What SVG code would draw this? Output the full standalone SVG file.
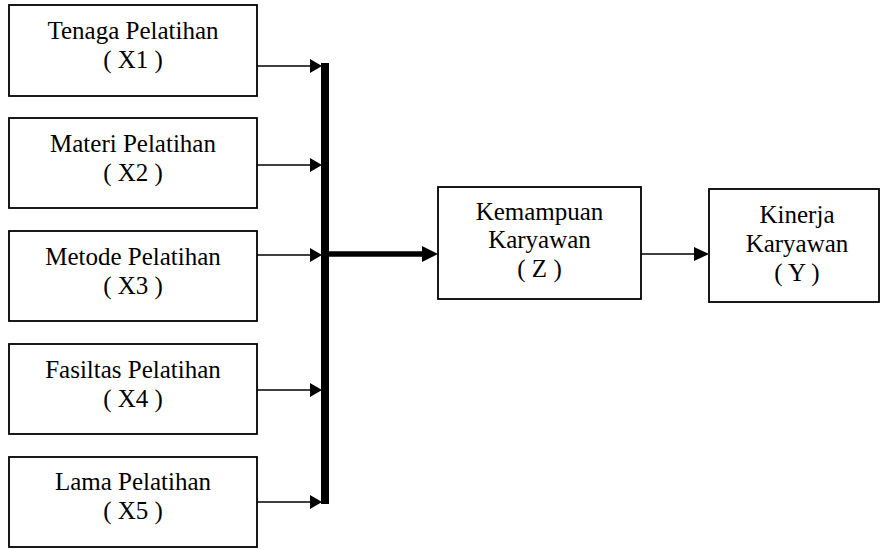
<svg xmlns="http://www.w3.org/2000/svg" width="880" height="549" viewBox="0 0 880 549">
  <style>
    .box { fill: #ffffff; stroke: #000000; stroke-width: 1.8; }
    .lbl { font-size: 25px; fill: #000000; text-anchor: middle; }
    .thin { stroke: #000000; stroke-width: 1.6; fill: none; }
    .thick { stroke: #000000; stroke-width: 5.5; fill: none; }
    .head { fill: #000000; stroke: none; }
  </style>
  <rect width="880" height="549" fill="#ffffff"/>

  <g font-family="Liberation Serif, Times New Roman, DejaVu Serif, serif">
  <!-- input variables -->
  <g id="x1">
    <rect class="box" x="9" y="5" width="248" height="91"/>
    <text class="lbl" x="133" y="39">Tenaga Pelatihan</text>
    <text class="lbl" x="133" y="68">( X1 )</text>
  </g>
  <g id="x2">
    <rect class="box" x="9" y="118" width="248" height="90"/>
    <text class="lbl" x="133" y="152">Materi Pelatihan</text>
    <text class="lbl" x="133" y="181">( X2 )</text>
  </g>
  <g id="x3">
    <rect class="box" x="9" y="231" width="248" height="90"/>
    <text class="lbl" x="133" y="265">Metode Pelatihan</text>
    <text class="lbl" x="133" y="294">( X3 )</text>
  </g>
  <g id="x4">
    <rect class="box" x="9" y="344" width="248" height="90"/>
    <text class="lbl" x="133" y="378">Fasiltas Pelatihan</text>
    <text class="lbl" x="133" y="407">( X4 )</text>
  </g>
  <g id="x5">
    <rect class="box" x="9" y="457" width="248" height="90"/>
    <text class="lbl" x="133" y="490">Lama Pelatihan</text>
    <text class="lbl" x="133" y="519">( X5 )</text>
  </g>

  <!-- intervening and outcome variables -->
  <g id="z">
    <rect class="box" x="438" y="187" width="203" height="112"/>
    <text class="lbl" x="539.5" y="220">Kemampuan</text>
    <text class="lbl" x="539.5" y="248">Karyawan</text>
    <text class="lbl" x="539.5" y="277">( Z )</text>
  </g>
  <g id="y">
    <rect class="box" x="709" y="189" width="170" height="113"/>
    <text class="lbl" x="797" y="223">Kinerja</text>
    <text class="lbl" x="797" y="252">Karyawan</text>
    <text class="lbl" x="797" y="281">( Y )</text>
  </g>
  </g>

  <!-- connectors -->
  <g id="connectors">
    <!-- collecting bar -->
    <rect class="head" x="321" y="63" width="8" height="441"/>
    <!-- inputs into the bar -->
    <line class="thin" x1="257" y1="66" x2="312" y2="66"/>
    <polygon class="head" points="310,59 322,66 310,73"/>
    <line class="thin" x1="257" y1="165" x2="312" y2="165"/>
    <polygon class="head" points="310,158 322,165 310,172"/>
    <line class="thin" x1="257" y1="255" x2="312" y2="255"/>
    <polygon class="head" points="310,248 322,255 310,262"/>
    <line class="thin" x1="257" y1="390" x2="312" y2="390"/>
    <polygon class="head" points="310,383 322,390 310,397"/>
    <line class="thin" x1="257" y1="502" x2="312" y2="502"/>
    <polygon class="head" points="310,495 322,502 310,509"/>
    <!-- bar to Z -->
    <line class="thick" x1="329" y1="254" x2="425" y2="254"/>
    <polygon class="head" points="422,246 438,254 422,262"/>
    <!-- Z to Y -->
    <line class="thin" x1="641" y1="254" x2="696" y2="254"/>
    <polygon class="head" points="694,247 709,254 694,261"/>
  </g>
</svg>
